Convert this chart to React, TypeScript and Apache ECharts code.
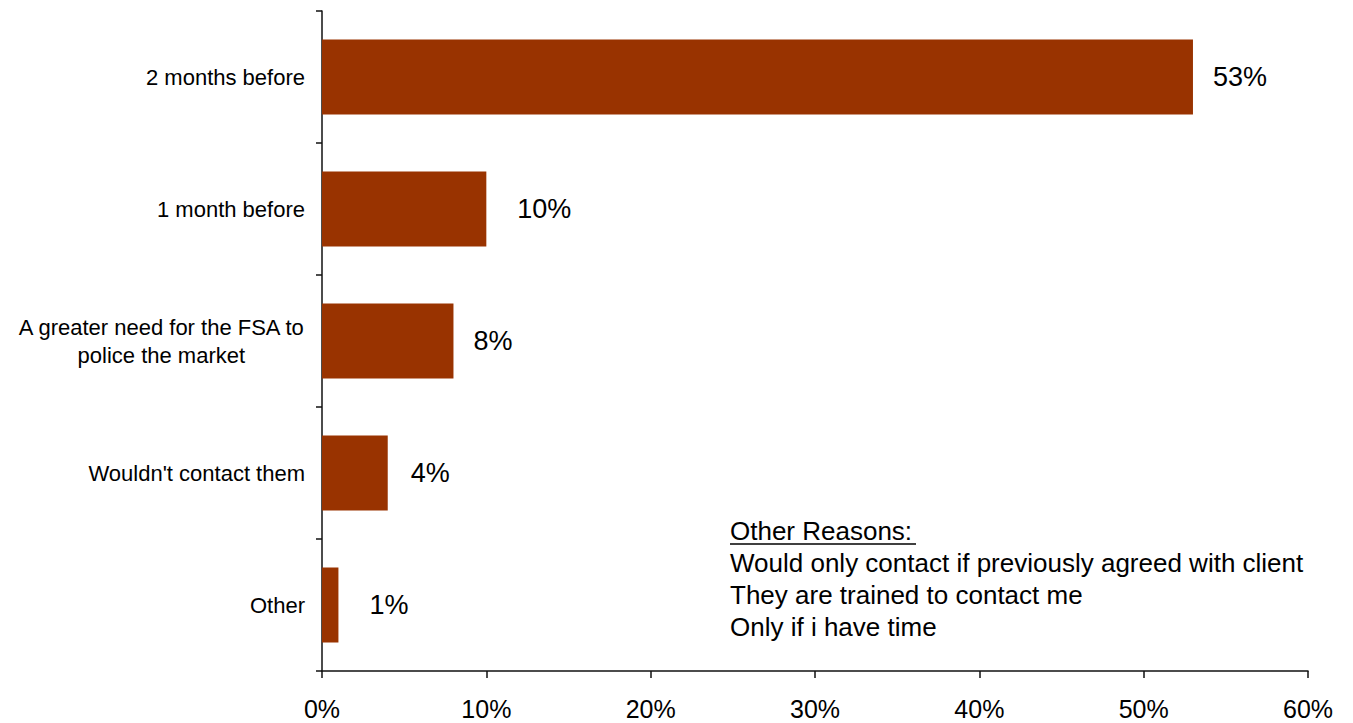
import React, { useEffect, useRef } from "react";
import * as echarts from "echarts";

const categories = [
  "2 months before",
  "1 month before",
  "A greater need for the FSA to\npolice the market",
  "Wouldn't contact them",
  "Other",
];
const values = [53, 10, 8, 4, 1];
const xTicks = [0, 10, 20, 30, 40, 50, 60];
const otherTitle = "Other Reasons:";
const otherReasons = [
  "Would only contact if previously agreed with client",
  "They are trained to contact me",
  "Only if i have time",
];
const labelGaps = [20, 31, 20, 23, 31];

const FONT = '"Liberation Sans", Arial, Helvetica, sans-serif';
const BAR = "#993300";

export default function App() {
  const ref = useRef<HTMLDivElement>(null);
  useEffect(() => {
    if (!ref.current) return;
    const chart = echarts.init(ref.current, undefined, { renderer: "svg" });
    const lines = [otherTitle, ...otherReasons].join("\n");
    chart.setOption({
      animation: false,
      backgroundColor: "#ffffff",
      textStyle: { fontFamily: FONT },
      grid: { left: 322, right: 45, top: 11, bottom: 52, containLabel: false },
      xAxis: {
        type: "value",
        min: xTicks[0],
        max: xTicks[xTicks.length - 1],
        interval: 10,
        splitLine: { show: false },
        axisLine: { show: true, lineStyle: { color: "#111", width: 1.5 } },
        axisTick: { show: true, length: 7, lineStyle: { color: "#111", width: 1.5 } },
        axisLabel: {
          formatter: "{value}%",
          fontSize: 25,
          color: "#000",
          margin: 25,
          fontFamily: FONT,
        },
      },
      yAxis: {
        type: "category",
        data: categories,
        inverse: true,
        axisLine: { show: true, lineStyle: { color: "#111", width: 1.5 } },
        axisTick: { show: true, length: 6, lineStyle: { color: "#111", width: 1.5 } },
        axisLabel: {
          fontSize: 22,
          color: "#000",
          margin: 17,
          fontFamily: FONT,
          lineHeight: 28,
          formatter: (v: string) =>
            v
              .split("\n")
              .map((l) => "{c|" + l + "}")
              .join("\n"),
          rich: {
            c: { align: "center", fontSize: 22, lineHeight: 28, color: "#000", fontFamily: FONT },
          },
        },
      },
      series: [
        {
          type: "bar",
          barCategoryGap: "43%",
          itemStyle: { color: BAR },
          data: values.map((v, i) => ({
            value: v,
            label: { distance: labelGaps[i] },
          })),
          label: {
            show: true,
            position: "right",
            formatter: "{c}%",
            fontSize: 27,
            color: "#000",
            fontFamily: FONT,
          },
        },
      ],
      graphic: [
        {
          type: "text",
          left: 730,
          top: 515,
          style: {
            text: lines,
            fontSize: 26,
            lineHeight: 32,
            fill: "#000",
            fontFamily: FONT,
          },
        },
        {
          type: "line",
          shape: { x1: 730, y1: 544, x2: 916, y2: 544 },
          style: { stroke: "#000", lineWidth: 1.5 },
        },
      ],
    });
    return () => chart.dispose();
  }, []);
  return (
    <div
      ref={ref}
      style={{ position: "fixed", left: 0, top: 0, width: 1353, height: 723 }}
    />
  );
}
